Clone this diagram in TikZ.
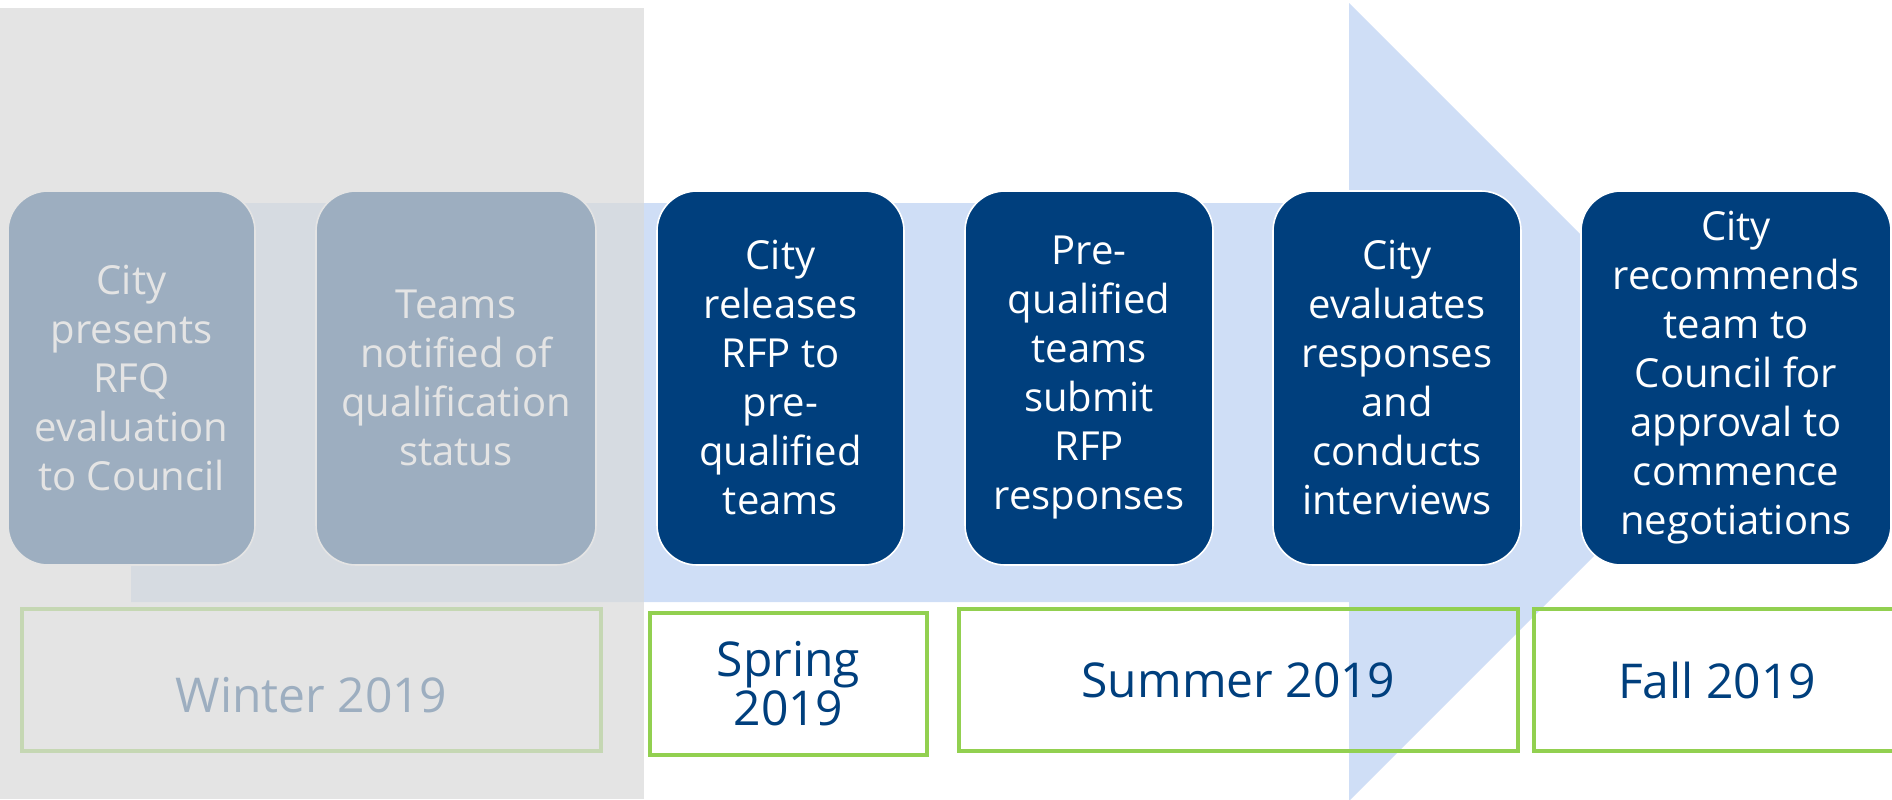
\documentclass[tikz,border=0pt]{standalone}
\usepackage{fontspec}
\setmainfont{Open Sans}
\usepackage{tikz}
\usetikzlibrary{positioning}
\definecolor{planblue}{RGB}{0,63,125}
\definecolor{arrowblue}{RGB}{207,222,246}
\definecolor{stagegreen}{RGB}{146,208,80}
\definecolor{pastgray}{RGB}{218,218,218}
\tikzset{
  stepbox/.style={rectangle, rounded corners=20pt, draw=white, line width=0.8pt, fill=planblue, text=white,
                  minimum height=187pt, inner sep=2pt, align=center, font=\fontsize{20}{24.5}\selectfont},
  datebox/.style={rectangle, draw=stagegreen, line width=1.8pt, minimum height=71pt, text=planblue,
                  align=center, font=\fontsize{24}{24.5}\selectfont},
  timeline/.style={fill=arrowblue},
  pastphase/.style={fill=pastgray, fill opacity=0.72}, % greys out what is already done
}

\begin{document}
\begin{tikzpicture}[x=0.5pt, y=-0.5pt]
  \useasboundingbox (0,0) rectangle (1892,799);
  \clip (0,0) rectangle (1892,799);

  \fill[timeline] (131,203) -- (1349,203) -- (1349,3) -- (1748,402) -- (1349,801) -- (1349,602) -- (131,602) -- cycle;

  \node[stepbox, minimum width=123.5pt] (rfq) at (131.5,378) {City\\presents\\RFQ\\evaluation\\to Council};
  \node[stepbox, minimum width=140pt] (notify) [right=29.7pt of rfq] {Teams\\notified of\\qualification\\status};
  \node[stepbox, minimum width=123.5pt] (release) [right=29.7pt of notify] {City\\releases\\RFP to\\pre-\\qualified\\teams};
  \node[stepbox, minimum width=124pt] (submit) [right=29.7pt of release] {Pre-\\qualified\\teams\\submit\\RFP\\responses};
  \node[stepbox, minimum width=124pt] (evaluate) [right=29.2pt of submit] {City\\evaluates\\responses\\and\\conducts\\interviews};
  \node[stepbox, minimum width=155pt] (recommend) [right=29.2pt of evaluate] {City\\recommends\\team to\\Council for\\approval to\\commence\\negotiations};

  \node[datebox, minimum width=289.5pt, text height=32pt, text depth=0pt] (winter) at (311.5,680) {Winter 2019};
  \node[datebox, minimum width=138.5pt] (spring) at (788.5,684) {Spring\\2019};
  \node[datebox, minimum width=279.5pt] (summer) at (1238.5,680) {Summer 2019};
  \node[datebox, minimum width=183pt] (fall) at (1717,680) {Fall 2019};

  \fill[pastphase] (0,8) rectangle (644,799);
\end{tikzpicture}
\end{document}
